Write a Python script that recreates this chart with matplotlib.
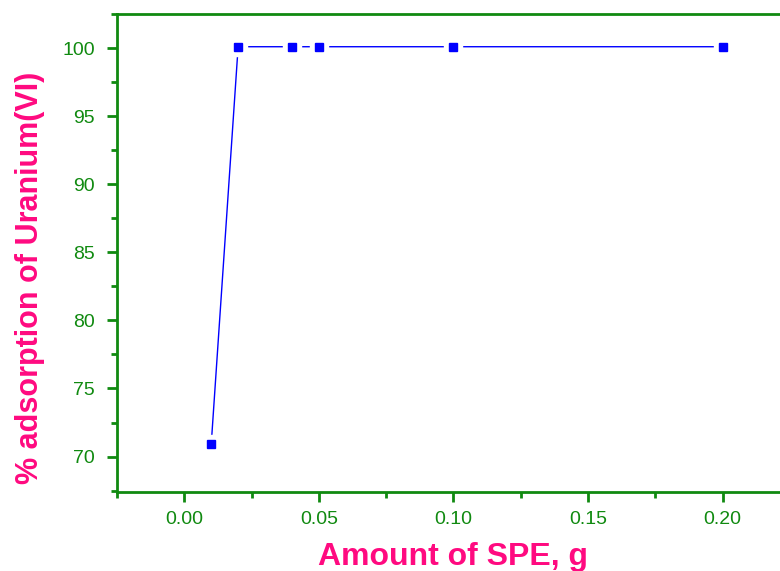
import matplotlib.pyplot as plt
from matplotlib.ticker import MultipleLocator

plt.rcParams['font.family'] = ['Liberation Sans', 'DejaVu Sans']

# data
spe_amount = [0.01, 0.02, 0.04, 0.05, 0.10, 0.20]
adsorption = [70.9, 100.1, 100.1, 100.1, 100.1, 100.1]

green = '#108a10'
pink = '#ff0a80'

fig = plt.figure(figsize=(7.8, 5.71), dpi=100)
ax = fig.add_axes([0.15, 0.1384, 0.8628, 0.837])

# линия с разрывами у маркеров (как в Origin)
ax.plot(spe_amount, adsorption, color='blue', lw=1, zorder=2)
ax.plot(spe_amount, adsorption, ls='none', marker='s', ms=13, mfc='white', mec='white', zorder=3)
ax.plot(spe_amount, adsorption, ls='none', marker='s', ms=6, mfc='blue', mec='blue', zorder=4)

ax.set_xlim(-0.025, 0.225)
ax.set_ylim(67.4, 102.5)
ax.xaxis.set_major_locator(MultipleLocator(0.05))
ax.xaxis.set_minor_locator(MultipleLocator(0.025))
ax.yaxis.set_major_locator(MultipleLocator(5))
ax.yaxis.set_minor_locator(MultipleLocator(2.5))
ax.xaxis.set_major_formatter(plt.FormatStrFormatter('%.2f'))

for s in ['left', 'bottom', 'top']:
    ax.spines[s].set_color(green)
    ax.spines[s].set_linewidth(2)
ax.spines['right'].set_visible(False)

ax.tick_params(axis='both', which='major', direction='out', length=7, width=2,
               color=green, labelcolor=green, labelsize=14)
ax.tick_params(axis='both', which='minor', direction='out', length=4, width=2, color=green)
ax.tick_params(axis='x', pad=7)
ax.tick_params(axis='y', pad=9)

ax.set_xlabel('Amount of SPE, g', color=pink, fontsize=23, fontweight='bold')
ax.xaxis.set_label_coords(0.5, -0.104)
ax.set_ylabel('% adsorption of Uranium(VI)', color=pink, fontsize=22, fontweight='bold')
ax.yaxis.set_label_coords(-0.107, 0.448)

fig.savefig('out.png', dpi=100)
